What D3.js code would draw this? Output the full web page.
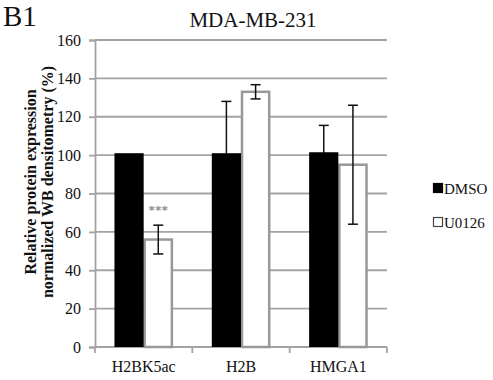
<!DOCTYPE html>
<html>
<head>
<meta charset="utf-8">
<script src="https://cdn.jsdelivr.net/npm/d3@7"></script>
<style>
  body { margin: 0; background: #fff; }
  text { font-family: "Liberation Serif", "Times New Roman", serif; }
</style>
</head>
<body>
<div id="chart"></div>
<script>
// data
const categories = ["H2BK5ac", "H2B", "HMGA1"];
const seriesNames = ["DMSO", "U0126"];
const dmsoValues = [101, 101, 101.5];
const dmsoErrors = [0, 27, 14];
const u0126Values = [56, 133, 95];
const u0126Errors = [7.5, 3.7, 31];
const yTicks = [0, 20, 40, 60, 80, 100, 120, 140, 160];

const W = 493, H = 380;
const margin = {top: 40, right: 106, bottom: 33, left: 95};
const width = W - margin.left - margin.right;
const height = H - margin.top - margin.bottom;
const serif = "'Liberation Serif', 'Times New Roman', serif";

const svg = d3.select("#chart").append("svg")
  .attr("width", W)
  .attr("height", H);

const g = svg.append("g")
  .attr("transform", `translate(${margin.left},${margin.top})`);

const x0 = d3.scaleBand().domain(categories).range([0, width]).paddingInner(0.4).paddingOuter(0.2);
const x1 = d3.scaleBand().domain(seriesNames).range([0, x0.bandwidth()]);
const y = d3.scaleLinear().domain([0, 160]).range([height, 0]);

// gridlines
g.selectAll(".grid")
  .data(yTicks.filter(d => d > 0))
  .enter().append("line")
  .attr("x1", 0).attr("x2", width)
  .attr("y1", d => y(d)).attr("y2", d => y(d))
  .attr("stroke", "#a3a3a3").attr("stroke-width", 1.8);

// y axis
const yAxis = g.append("g")
  .call(d3.axisLeft(y).tickValues(yTicks).tickSize(6).tickPadding(8));
yAxis.attr("font-family", null);
yAxis.select(".domain").attr("stroke", "#a3a3a3").attr("stroke-width", 1.8);
yAxis.selectAll(".tick line").attr("stroke", "#a3a3a3").attr("stroke-width", 1.8);
yAxis.selectAll("text").attr("font-size", 16).attr("fill", "#111").style("font-family", serif);

// x axis
const catEdges = d3.range(categories.length + 1).map(i => i * width / categories.length);
g.append("line")
  .attr("x1", 0).attr("x2", width)
  .attr("y1", height).attr("y2", height)
  .attr("stroke", "#a3a3a3").attr("stroke-width", 1.8);
g.selectAll(".xtick")
  .data(catEdges)
  .enter().append("line")
  .attr("x1", d => d).attr("x2", d => d)
  .attr("y1", height).attr("y2", height + 6)
  .attr("stroke", "#a3a3a3").attr("stroke-width", 1.8);
g.selectAll(".xlabel")
  .data(categories)
  .enter().append("text")
  .attr("x", d => x0(d) + x0.bandwidth() / 2)
  .attr("y", height + 25)
  .attr("text-anchor", "middle")
  .attr("font-size", 16)
  .attr("fill", "#111")
  .text(d => d);

// bars
const rows = categories.map((c, i) => ({
  cat: c,
  vals: [
    {name: "DMSO", v: dmsoValues[i], e: dmsoErrors[i]},
    {name: "U0126", v: u0126Values[i], e: u0126Errors[i]}
  ]
}));

const groups = g.selectAll(".grp")
  .data(rows)
  .enter().append("g")
  .attr("transform", d => `translate(${x0(d.cat)},0)`);

// error bars drawn before DMSO bar so its lower half is hidden
function drawErr(sel) {
  const cx = d => x1(d.name) + x1.bandwidth() / 2;
  sel.append("line")
    .attr("x1", cx).attr("x2", cx)
    .attr("y1", d => y(d.v - d.e)).attr("y2", d => y(d.v + d.e))
    .attr("stroke", "#111").attr("stroke-width", 1.5);
  sel.append("line")
    .attr("x1", d => cx(d) - 5).attr("x2", d => cx(d) + 5)
    .attr("y1", d => y(d.v + d.e)).attr("y2", d => y(d.v + d.e))
    .attr("stroke", "#111").attr("stroke-width", 1.5);
  sel.append("line")
    .attr("x1", d => cx(d) - 5).attr("x2", d => cx(d) + 5)
    .attr("y1", d => y(d.v - d.e)).attr("y2", d => y(d.v - d.e))
    .attr("stroke", "#111").attr("stroke-width", 1.5);
}

groups.each(function(d) {
  const gg = d3.select(this);
  const dm = d.vals[0], u = d.vals[1];
  // U0126 bar (white, gray outline)
  gg.append("rect")
    .attr("x", x1(u.name) + 1)
    .attr("y", y(u.v))
    .attr("width", x1.bandwidth() - 2)
    .attr("height", height - y(u.v))
    .attr("fill", "#fff")
    .attr("stroke", "#999").attr("stroke-width", 2.5);
  if (dm.e > 0) {
    drawErr(gg.selectAll(".edm").data([dm]).enter().append("g"));
  }
  gg.append("rect")
    .attr("x", x1(dm.name))
    .attr("y", y(dm.v))
    .attr("width", x1.bandwidth())
    .attr("height", height - y(dm.v))
    .attr("fill", "#000");
  drawErr(gg.selectAll(".eu").data([u]).enter().append("g"));
});

// significance stars
g.append("text")
  .attr("x", x0("H2BK5ac") + x1("U0126") + x1.bandwidth() / 2)
  .attr("y", y(u0126Values[0] + u0126Errors[0]) - 11)
  .attr("text-anchor", "middle")
  .attr("font-size", 13)
  .attr("font-weight", "bold")
  .attr("fill", "#8a8a8a")
  .text("***");

// title
svg.append("text")
  .attr("x", 253).attr("y", 27)
  .attr("text-anchor", "middle")
  .attr("font-size", 21)
  .attr("fill", "#111")
  .text("MDA-MB-231");

svg.append("text")
  .attr("x", 3).attr("y", 26)
  .attr("font-size", 29)
  .attr("fill", "#111")
  .text("B1");

// y label
const yl = svg.append("text")
  .attr("transform", `translate(0,182) rotate(-90)`)
  .attr("text-anchor", "middle")
  .attr("font-size", 16)
  .attr("font-weight", "bold")
  .attr("fill", "#111");
yl.append("tspan").attr("x", 0).attr("y", 36).text("Relative protein expression");
yl.append("tspan").attr("x", 0).attr("y", 53).text("normalized WB densitometry (%)");

// legend
const legend = svg.append("g").attr("transform", "translate(433,183)");
seriesNames.forEach((s, i) => {
  const lg = legend.append("g").attr("transform", `translate(0,${i * 34})`);
  lg.append("rect")
    .attr("x", 0.5).attr("y", 0.5)
    .attr("width", 9).attr("height", 9)
    .attr("fill", i === 0 ? "#000" : "#fff")
    .attr("stroke", i === 0 ? "#000" : "#444").attr("stroke-width", 1.2);
  lg.append("text")
    .attr("x", 11).attr("y", 10.5)
    .attr("font-size", 15)
    .attr("fill", "#111")
    .text(s);
});
</script>
</body>
</html>
